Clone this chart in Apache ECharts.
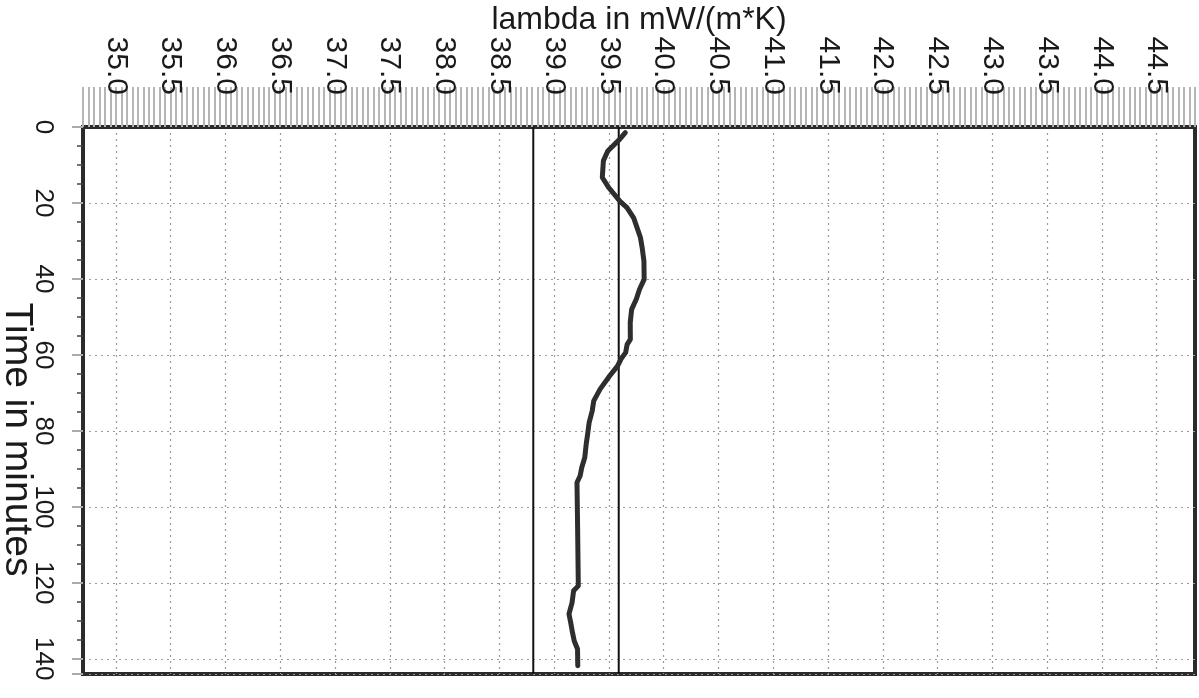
<!DOCTYPE html>
<html>
<head>
<meta charset="utf-8">
<script src="https://cdn.jsdelivr.net/npm/echarts@6/dist/echarts.min.js"></script>
<style>
html,body{margin:0;padding:0;background:#fff;}
#c{width:1199px;height:698px;}
</style>
</head>
<body>
<div id="c"></div>
<script>
// ---- data ----
var timeMin = [1.5, 3.2, 6.3, 8.9, 13.3, 16.0, 19.5, 21.2, 23.9, 26.5, 29.1, 31.8, 35.3, 40.1, 42.7, 45.3, 48.0, 51.5, 55.9, 57.2, 59.4, 61.1, 62.9, 65.5, 69.0, 72.1, 74.7, 77.8, 80.9, 83.5, 87.0, 89.7, 91.8, 93.6, 106.3, 120.8, 122.1, 125.2, 128.2, 130.4, 133.1, 135.3, 137.4, 141.8];
var lambdaVal = [39.65, 39.60, 39.49, 39.45, 39.44, 39.50, 39.60, 39.665, 39.726, 39.757, 39.788, 39.804, 39.82, 39.822, 39.78, 39.751, 39.708, 39.695, 39.696, 39.667, 39.653, 39.61, 39.58, 39.508, 39.42, 39.362, 39.348, 39.32, 39.306, 39.293, 39.28, 39.252, 39.238, 39.209, 39.215, 39.221, 39.178, 39.164, 39.136, 39.151, 39.168, 39.184, 39.214, 39.216];
var limitLines = [38.81, 39.59];
var xTickLabels = [35.0, 35.5, 36.0, 36.5, 37.0, 37.5, 38.0, 38.5, 39.0, 39.5, 40.0, 40.5, 41.0, 41.5, 42.0, 42.5, 43.0, 43.5, 44.0, 44.5];
var xName = 'lambda in mW/(m*K)';
var yName = 'Time in minutes';

var curve = timeMin.map(function (t, i) { return [lambdaVal[i], t]; });
var limitSeries = limitLines.map(function (v) {
  return {
    type: 'line', xAxisIndex: 0, yAxisIndex: 0, symbol: 'none', silent: true,
    lineStyle: { color: '#111', width: 2 },
    data: [[v, 0], [v, 144]], z: 3
  };
});

var XMIN = 34.7, XMAX = 44.85;
var font = 'Liberation Sans, Arial, sans-serif';

var chart = echarts.init(document.getElementById('c'), null, { renderer: 'canvas' });
chart.setOption({
  animation: false,
  backgroundColor: '#fff',
  grid: { left: 83, right: 4, top: 127, bottom: 24, show: true, borderColor: '#2b2b2b', borderWidth: 4, containLabel: false, outerBoundsMode: 'none' },
  xAxis: [
    {
      type: 'value', position: 'top', min: XMIN, max: XMAX, interval: 0.05,
      name: xName, nameLocation: 'middle', nameGap: 91, nameMoveOverlap: false,
      nameTextStyle: { fontFamily: font, fontSize: 32, color: '#1a1a1a' },
      axisLine: { show: true, lineStyle: { color: '#2b2b2b', width: 4 } },
      axisTick: { show: true, inside: false, length: 40, lineStyle: { color: '#b5b5b5', width: 2 } },
      axisLabel: {
        customValues: xTickLabels, rotate: -90, margin: 32,
        fontFamily: font, fontSize: 30, color: '#1a1a1a',
        formatter: function (v) { return Number(v).toFixed(1); }
      },
      splitLine: { show: false }
    },
    {
      type: 'value', position: 'top', min: XMIN, max: XMAX,
      axisLine: { show: false },
      axisTick: { show: false, customValues: xTickLabels },
      axisLabel: { show: false, customValues: xTickLabels },
      splitLine: { show: true, lineStyle: { color: '#9a9a9a', width: 1.2, type: [2, 4] } }
    }
  ],
  yAxis: {
    type: 'value', inverse: true, min: 0, max: 144, interval: 20,
    name: yName, nameLocation: 'middle', nameGap: 47, nameRotate: -90, nameMoveOverlap: false,
    nameTextStyle: { fontFamily: font, fontSize: 39, color: '#1a1a1a', padding: [0, 0, 0, 78] },
    axisLine: { show: true, lineStyle: { color: '#2b2b2b', width: 4 } },
    axisTick: { show: true, length: 11, lineStyle: { color: '#aaaaaa', width: 2 } },
    minorTick: { show: true, splitNumber: 4, length: 6, lineStyle: { color: '#444', width: 1.5 } },
    axisLabel: { rotate: -90, margin: 27, fontFamily: font, fontSize: 26, color: '#1a1a1a' },
    splitLine: { show: true, lineStyle: { color: '#9a9a9a', width: 1.2, type: [2, 4] } }
  },
  series: [
    {
      type: 'line', xAxisIndex: 0, yAxisIndex: 0, symbol: 'none', smooth: false,
      lineStyle: { color: '#2e2e2e', width: 5, join: 'round', cap: 'round' },
      data: curve, z: 5
    }
  ].concat(limitSeries)
});
</script>
</body>
</html>
